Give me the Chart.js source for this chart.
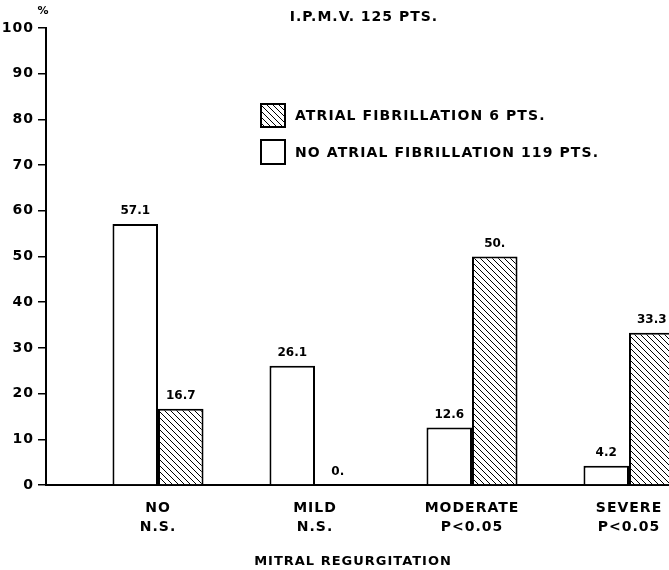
<!DOCTYPE html>
<html>
<head>
<meta charset="utf-8">
<script src="https://cdn.jsdelivr.net/npm/chart.js@4.4.1/dist/chart.umd.min.js"></script>
<style>
  html, body { margin: 0; padding: 0; background: #fff; overflow: hidden; }
  #wrap { width: 669px; height: 570px; position: relative; }
</style>
</head>
<body>
<div id="wrap"><canvas id="mrChart"></canvas></div>
<script>
// data
const categories = ['NO', 'MILD', 'MODERATE', 'SEVERE'];
const significance = ['N.S.', 'N.S.', 'P<0.05', 'P<0.05'];
const noAfValues = [57.1, 26.1, 12.6, 4.2];
const afValues = [16.7, 0, 50, 33.3];
const noAfLabels = ['57.1', '26.1', '12.6', '4.2'];
const afLabels = ['16.7', '0.', '50.', '33.3'];
const seriesNames = ['ATRIAL FIBRILLATION 6 PTS.', 'NO ATRIAL FIBRILLATION 119 PTS.'];
const chartTitle = 'I.P.M.V. 125 PTS.';
const xTitle = 'MITRAL REGURGITATION';

const FONT = '"DejaVu Sans", sans-serif';

function makeHatch() {
    const s = 6;
    const c = document.createElement('canvas');
    c.width = s; c.height = s;
    const g = c.getContext('2d');
    g.fillStyle = '#fff';
    g.fillRect(0, 0, s, s);
    g.strokeStyle = '#000';
    g.lineWidth = 1;
    g.beginPath();
    for (const k of [-s, 0, s]) { g.moveTo(0, k); g.lineTo(s, s + k); }
    g.stroke();
    return g.createPattern(c, 'repeat');
}
const hatch = makeHatch();

// labels, legend and titles drawn onto the canvas
const annotations = {
    id: 'annotations',
    beforeDraw(chart) { chart.ctx.letterSpacing = '1px'; },
    afterDatasetsDraw(chart) {
        const ctx = chart.ctx;
        ctx.save();
        ctx.letterSpacing = '0px';
        ctx.fillStyle = '#000';
        ctx.font = 'bold 12px ' + FONT;
        ctx.textAlign = 'center';
        ctx.textBaseline = 'middle';
        [noAfLabels, afLabels].forEach((labels, d) => {
            chart.getDatasetMeta(d).data.forEach((bar, i) => {
                ctx.fillText(labels[i], bar.x, bar.y - 13);
            });
        });
        ctx.restore();
    },
    afterDraw(chart) {
        const ctx = chart.ctx;
        ctx.save();
        ctx.fillStyle = '#000';
        ctx.strokeStyle = '#000';
        ctx.textBaseline = 'middle';

        ctx.font = 'bold 14px ' + FONT;
        ctx.letterSpacing = '1px';
        ctx.textAlign = 'center';
        ctx.fillText(chartTitle, 364, 17);

        ctx.font = 'bold 11px ' + FONT;
        ctx.letterSpacing = '0px';
        ctx.fillText('%', 43, 11);

        ctx.font = 'bold 13px ' + FONT;
        ctx.letterSpacing = '1px';
        ctx.fillText(xTitle, 353, 562);

        // legend
        ctx.lineWidth = 2;
        ctx.fillStyle = hatch;
        ctx.fillRect(261, 104, 24, 23);
        ctx.strokeRect(261, 104, 24, 23);
        ctx.fillStyle = '#fff';
        ctx.fillRect(261, 140, 24, 24);
        ctx.strokeRect(261, 140, 24, 24);
        ctx.fillStyle = '#000';
        ctx.font = 'bold 14px ' + FONT;
        ctx.letterSpacing = '1.1px';
        ctx.textAlign = 'left';
        ctx.fillText(seriesNames[0], 295, 116);
        ctx.fillText(seriesNames[1], 295, 153);

        ctx.restore();
        ctx.letterSpacing = '0px';
    }
};

const ctx = document.getElementById('mrChart');
new Chart(ctx, {
    type: 'bar',
    data: {
        datasets: [{
            label: seriesNames[1],
            data: noAfValues.map((v, i) => ({ x: i + 1, y: v })),
            backgroundColor: '#fff',
            borderColor: '#000',
            borderWidth: 2
        }, {
            label: seriesNames[0],
            data: afValues.map((v, i) => ({ x: i + 1, y: v })),
            backgroundColor: hatch,
            borderColor: '#000',
            borderWidth: 2
        }]
    },
    options: {
        responsive: true,
        maintainAspectRatio: false,
        animation: false,
        layout: { padding: { top: 28, left: 0, right: 0, bottom: 0 } },
        plugins: { legend: { display: false }, tooltip: { enabled: false } },
        datasets: { bar: { categoryPercentage: 0.58, barPercentage: 1 } },
        scales: {
            x: {
                type: 'linear',
                offset: false,
                min: 0.2866,
                max: 4.2548,
                afterFit: s => { s.height = 85; s.paddingLeft = 0; s.paddingRight = 0; },
                afterBuildTicks: s => { s.ticks = categories.map((_, i) => ({ value: i + 1 })); },
                grid: { display: true, drawOnChartArea: false, drawTicks: false },
                border: { display: true, color: '#000', width: 2 },
                ticks: {
                    maxRotation: 0,
                    autoSkip: false,
                    padding: 14,
                    color: '#000',
                    font: { family: FONT, size: 14, weight: 'bold', lineHeight: 1.35 },
                    callback: v => [categories[v - 1], significance[v - 1]]
                }
            },
            y: {
                min: 0,
                max: 100,
                afterFit: s => { s.width = 46; },
                grid: { display: true, drawOnChartArea: false, tickLength: 8, color: '#000', lineWidth: 1.5 },
                border: { display: true, color: '#000', width: 2 },
                ticks: {
                    stepSize: 10,
                    padding: 4,
                    color: '#000',
                    font: { family: FONT, size: 14, weight: 'bold' }
                }
            }
        }
    },
    plugins: [annotations]
});
</script>
</body>
</html>
